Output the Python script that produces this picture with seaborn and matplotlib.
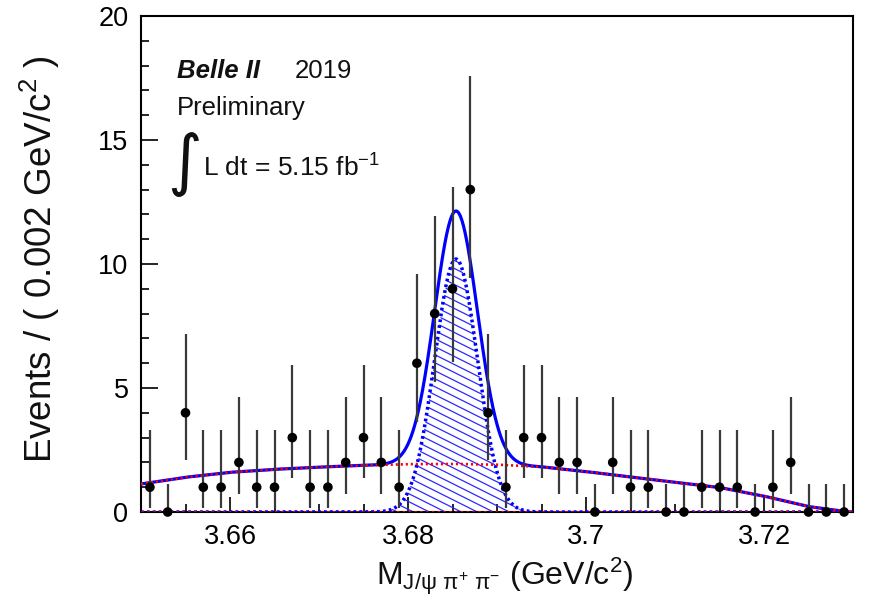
import numpy as np
import pandas as pd
import matplotlib
matplotlib.use("Agg")
import matplotlib.pyplot as plt
import seaborn as sns
from matplotlib.ticker import MultipleLocator, FixedLocator
from matplotlib.collections import LineCollection
from matplotlib.patches import Polygon

# ---- binned candidates: M(J/psi pi+ pi-), 2 MeV bins from 3.65 GeV ----
bin_low = 3.65
bin_width = 0.002
counts = [1, 0, 4, 1, 1, 2, 1, 1, 3, 1,
          1, 2, 3, 2, 1, 6, 8, 9, 13, 4,
          1, 3, 3, 2, 2, 0, 2, 1, 1, 0,
          0, 1, 1, 1, 0, 1, 2, 0, 0, 0]

# 68% Poisson interval bounds for each observed count
poisson_lo = {0: 0.0, 1: 0.173, 2: 0.708, 3: 1.367, 4: 2.086,
              6: 3.620, 8: 5.237, 9: 6.055, 13: 9.44}
poisson_hi = {0: 1.148, 1: 3.300, 2: 4.638, 3: 5.918, 4: 7.163,
              6: 9.584, 8: 11.944, 9: 13.12, 13: 17.6}

# ---- fit result ----
sig_mean = 3.6854
sig_sigma = 0.0024
sig_peak = 10.2
bkg_knots_x = [3.650, 3.655, 3.660, 3.665, 3.670, 3.675, 3.680, 3.685, 3.690,
               3.695, 3.700, 3.705, 3.710, 3.715, 3.720, 3.725, 3.7295, 3.730]
bkg_knots_y = [1.13, 1.40, 1.60, 1.72, 1.81, 1.88, 1.93, 1.94, 1.91,
               1.82, 1.63, 1.41, 1.20, 0.99, 0.64, 0.22, 0.0, 0.0]

x_ticks = [3.66, 3.68, 3.70, 3.72]
x_tick_labels = ["3.66", "3.68", "3.7", "3.72"]
y_ticks = [0, 5, 10, 15, 20]

sns.set_theme(style="ticks")
plt.rcParams["font.family"] = ["Liberation Sans", "DejaVu Sans"]
plt.rcParams.update({
    "mathtext.fontset": "custom",
    "mathtext.rm": "Liberation Sans",
    "mathtext.it": "Liberation Sans:italic",
    "mathtext.bf": "Liberation Sans:bold",
    "axes.edgecolor": "black",
    "xtick.color": "black",
    "ytick.color": "black",
    "text.color": "#111111",
})

W, H = 869, 612
fig = plt.figure(figsize=(W / 100, H / 100), dpi=100)
ax = fig.add_axes([141 / W, 100 / H, 712 / W, 496 / H])
ax.set_xlim(3.65, 3.73)
ax.set_ylim(0, 20)

centers = bin_low + bin_width * (np.arange(len(counts)) + 0.5)
data = pd.DataFrame({"m": centers, "n": counts})
data["lo"] = [poisson_lo[n] for n in counts]
data["hi"] = [poisson_hi[n] for n in counts]

grid = np.linspace(3.65, 3.73, 1601)
bkg = np.interp(grid, bkg_knots_x, bkg_knots_y)
sig = sig_peak * np.exp(-0.5 * ((grid - sig_mean) / sig_sigma) ** 2)
curves = pd.DataFrame({"m": grid, "bkg": bkg, "sig": sig, "tot": bkg + sig})

# hatched signal component
region = Polygon(np.column_stack([np.r_[grid, grid[::-1]],
                                  np.r_[sig, np.zeros_like(sig)]]),
                 closed=True, facecolor="none", edgecolor="none")
ax.add_patch(region)
px_x = 712 / 0.08
px_y = 496 / 20
slope = -0.5 * px_x / px_y
step = 8 / px_y
xa, xb = 3.670, 3.702
segs = []
for c in np.arange(-1.0, 22.0, step):
    segs.append([(xa, c), (xb, c + slope * (xb - xa))])
hatch = LineCollection(segs, colors="#2a2aff", linewidths=0.9, zorder=2)
ax.add_collection(hatch)
hatch.set_clip_path(region)

sns.lineplot(data=curves, x="m", y="sig", ax=ax, color="blue", lw=2.5,
             linestyle=(0, (0.8, 0.9)), estimator=None, sort=False, zorder=3)
sns.lineplot(data=curves, x="m", y="tot", ax=ax, color="blue", lw=2.3,
             estimator=None, sort=False, zorder=4)
sns.lineplot(data=curves, x="m", y="bkg", ax=ax, color="red", lw=1.9,
             linestyle=(0, (0.8, 1.1)), estimator=None, sort=False, zorder=5)
ax.plot([3.65, 3.73], [0, 0], color="#cc0000", lw=2.2, linestyle=(0, (0.8, 1.1)),
        zorder=5)

# data points with Poisson error bars
ax.vlines(data["m"], data["lo"], data["hi"], color="#3a3a3a", lw=1.6, zorder=6)
sns.scatterplot(data=data, x="m", y="n", ax=ax, color="black", s=48,
                edgecolor="none", zorder=7, clip_on=False)

ax.set_xlabel("")
ax.set_ylabel("")
ax.xaxis.set_major_locator(FixedLocator(x_ticks))
ax.set_xticklabels(x_tick_labels)
ax.xaxis.set_minor_locator(MultipleLocator(0.005))
ax.yaxis.set_major_locator(FixedLocator(y_ticks))
ax.yaxis.set_minor_locator(MultipleLocator(1))
ax.tick_params(which="both", direction="in", top=False, right=False, width=1.2)
ax.tick_params(which="major", axis="x", length=11, pad=9, labelsize=19.5)
ax.tick_params(which="minor", axis="x", length=5.5)
ax.tick_params(which="major", axis="y", length=12, pad=9, labelsize=19.5)
ax.tick_params(which="minor", axis="y", length=6)
for sp in ax.spines.values():
    sp.set_visible(True)
    sp.set_linewidth(1.5)
    sp.set_color("black")

def fx(px):
    return px / W

def fy(py):
    return 1 - py / H

fig.text(fx(177), fy(78), "Belle II", fontsize=18.5, fontweight="bold",
         fontstyle="italic", va="baseline", ha="left")
fig.text(fx(295), fy(78), "2019", fontsize=18.5, va="baseline", ha="left")
fig.text(fx(177), fy(115), "Preliminary", fontsize=18.5, va="baseline", ha="left")
fig.text(fx(185), fy(164), "\u222b", fontsize=48, va="center", ha="center",
         family=["DejaVu Sans"])
fig.text(fx(203), fy(177), r"L dt = 5.15 $\mathregular{fb^{-1}}$", fontsize=19,
         va="baseline", ha="left")

fig.text(fx(505), fy(585),
         r"M$_{\mathregular{J/\psi\ \pi^{+}\ \pi^{-}}}$ (GeV/c$^{2}$)",
         fontsize=23, ha="center", va="baseline")
fig.text(fx(40), fy(259), r"Events / ( 0.002 GeV/c$^{2}$ )", fontsize=26.5,
         rotation=90, ha="center", va="center")

fig.savefig("out.png", dpi=100)
